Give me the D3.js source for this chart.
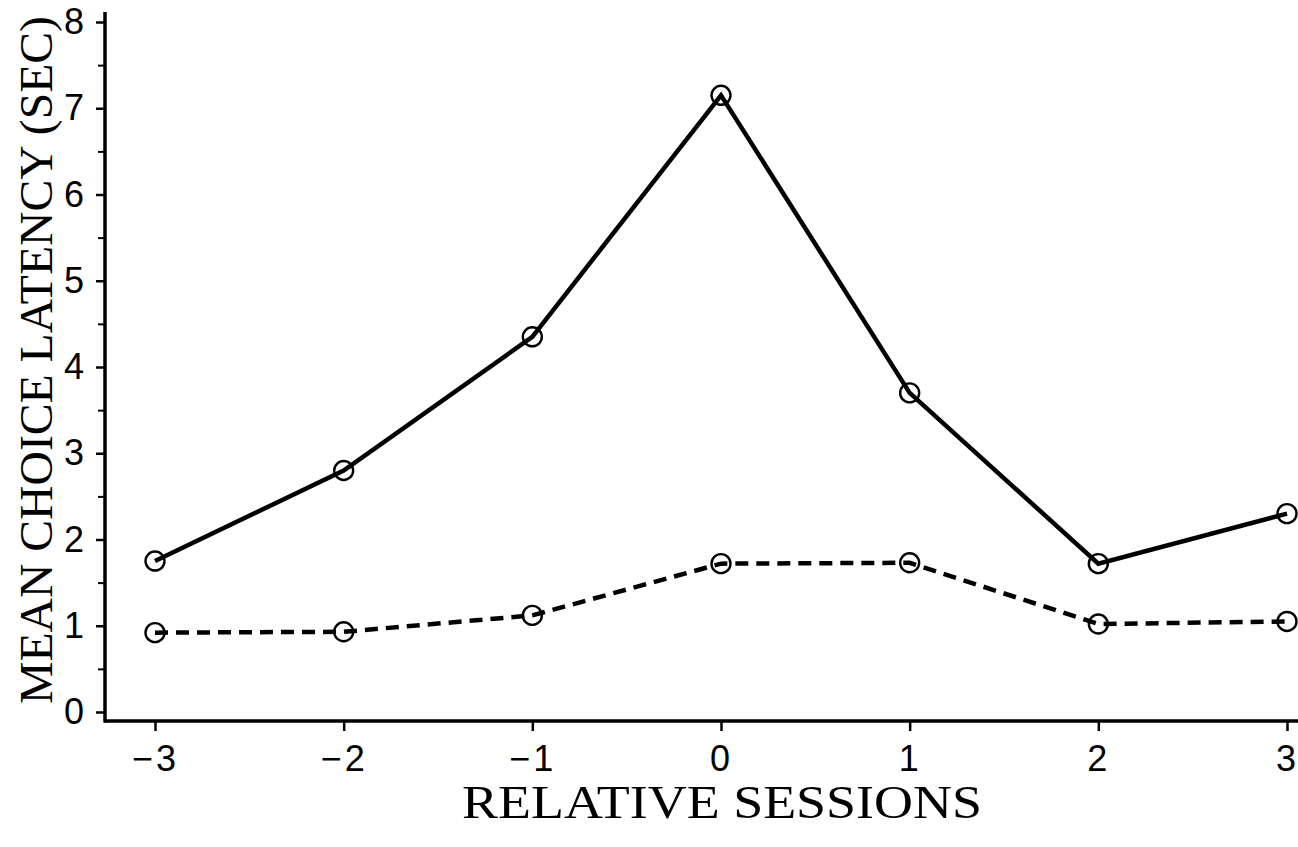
<!DOCTYPE html>
<html>
<head>
<meta charset="utf-8">
<script src="https://cdn.jsdelivr.net/npm/d3@7"></script>
<style>
  body { margin: 0; background: #fff; }
  .tick text { font-family: "Liberation Sans", Arial, sans-serif; }
</style>
</head>
<body>
<div id="chart"></div>
<script>
// data
var sessions = [-3, -2, -1, 0, 1, 2, 3];
var solidSeries = [1.75, 2.8, 4.35, 7.15, 3.7, 1.72, 2.3];
var dashedSeries = [0.92, 0.93, 1.12, 1.72, 1.73, 1.02, 1.05];
var yTicks = [0, 1, 2, 3, 4, 5, 6, 7, 8];
var yMinorTicks = [0.5, 1.5, 2.5, 3.5, 4.5, 5.5, 6.5, 7.5];

var width = 1298,
	height = 847;

var svg = d3.select("#chart").append("svg")
	.attr("width", width)
	.attr("height", height);

var x = d3.scaleLinear().domain([-3, 3]).range([155, 1287]);
var y = d3.scaleLinear().domain([0, 8]).range([712, 22]);

var axisY0 = 721, axisX0 = 105;

// x axis
var gx = svg.append("g")
	.attr("transform", "translate(0," + axisY0 + ")")
	.call(d3.axisBottom(x).tickValues(sessions).tickSize(10).tickPadding(14)
		.tickFormat(function(d) { return d < 0 ? "\u2212" + Math.abs(d) : d; }));
gx.select(".domain").remove();
gx.selectAll(".tick line").attr("stroke", "#000").attr("stroke-width", 2.5);
gx.selectAll(".tick text").attr("font-size", 36).attr("fill", "#000")
	.attr("letter-spacing", 3);
svg.append("line")
	.attr("x1", axisX0 - 1).attr("x2", width)
	.attr("y1", axisY0).attr("y2", axisY0)
	.attr("stroke", "#000").attr("stroke-width", 3.5);

// y axis
var gy = svg.append("g")
	.attr("transform", "translate(" + axisX0 + ",0)")
	.call(d3.axisLeft(y).tickValues(yTicks).tickSize(9).tickPadding(12));
gy.select(".domain").remove();
gy.selectAll(".tick line").attr("stroke", "#000").attr("stroke-width", 2.5);
gy.selectAll(".tick text").attr("font-size", 36).attr("fill", "#000");

var gyMinor = svg.append("g")
	.attr("transform", "translate(" + axisX0 + ",0)")
	.call(d3.axisLeft(y).tickValues(yMinorTicks).tickSize(7).tickFormat(""));
gyMinor.select(".domain").remove();
gyMinor.selectAll(".tick line").attr("stroke", "#000").attr("stroke-width", 2);

svg.append("line")
	.attr("x1", axisX0).attr("x2", axisX0)
	.attr("y1", 12).attr("y2", axisY0 + 1.5)
	.attr("stroke", "#000").attr("stroke-width", 3.5);

// series
var line = d3.line()
	.x(function(d) { return x(d[0]); })
	.y(function(d) { return y(d[1]); });

function drawSeries(values, dash) {
	var pts = sessions.map(function(s, i) { return [s, values[i]]; });
	svg.append("path")
		.datum(pts)
		.attr("d", line)
		.attr("fill", "none")
		.attr("stroke", "#000")
		.attr("stroke-width", 4.5)
		.attr("stroke-dasharray", dash);
	svg.selectAll(null)
		.data(pts)
		.enter().append("circle")
			.attr("cx", function(d) { return x(d[0]); })
			.attr("cy", function(d) { return y(d[1]); })
			.attr("r", 9.5)
			.attr("fill", "none")
			.attr("stroke", "#000")
			.attr("stroke-width", 2.4);
}
drawSeries(solidSeries, null);
drawSeries(dashedSeries, "13,8");

// axis titles
svg.append("text")
	.attr("x", 722)
	.attr("y", 818)
	.attr("text-anchor", "middle")
	.attr("font-family", "'Liberation Serif', 'DejaVu Serif', serif")
	.attr("font-size", 46)
	.attr("fill", "#000")
	.attr("textLength", 520)
	.attr("lengthAdjust", "spacingAndGlyphs")
	.text("RELATIVE SESSIONS");

svg.append("text")
	.attr("transform", "translate(52,360) rotate(-90)")
	.attr("text-anchor", "middle")
	.attr("font-family", "'Liberation Serif', 'DejaVu Serif', serif")
	.attr("font-size", 46)
	.attr("fill", "#000")
	.attr("textLength", 688)
	.attr("lengthAdjust", "spacingAndGlyphs")
	.text("MEAN CHOICE LATENCY (SEC)");
</script>
</body>
</html>
